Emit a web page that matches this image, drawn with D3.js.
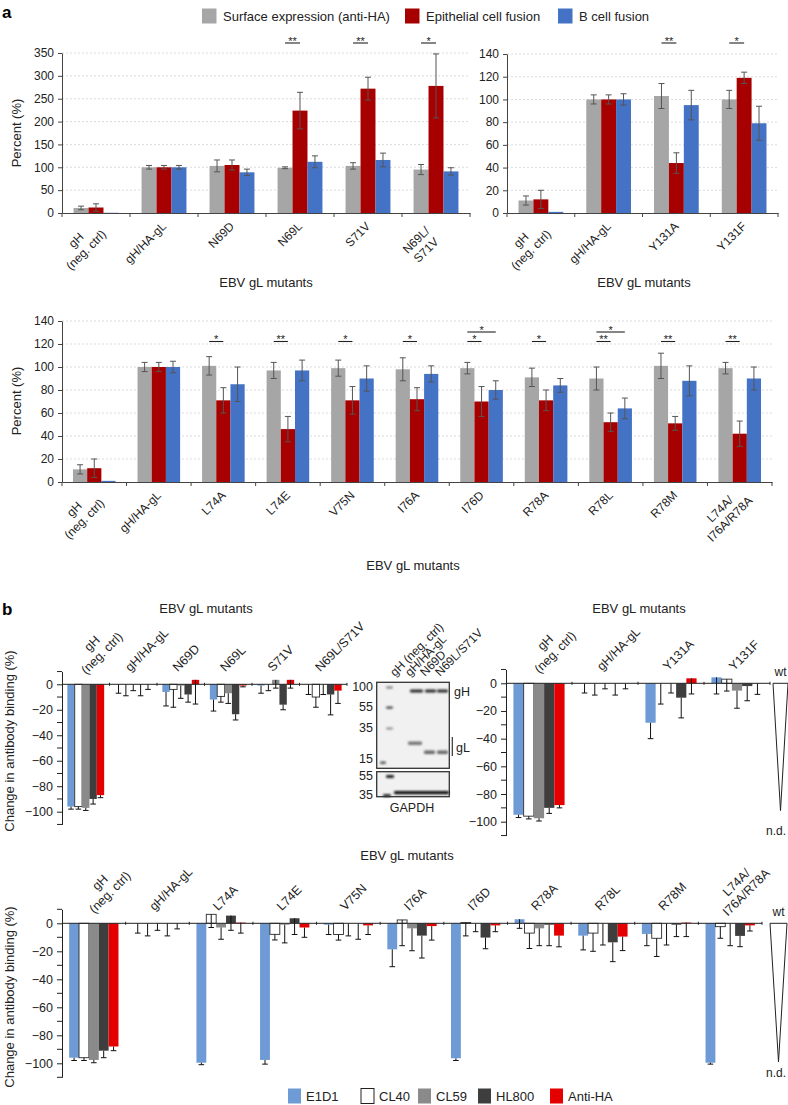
<!DOCTYPE html>
<html>
<head>
<meta charset="utf-8">
<script src="https://cdn.jsdelivr.net/npm/d3@7"></script>
<style>
  body { margin: 0; background: #fff; }
  svg { display: block; font-family: "Liberation Sans", Arial, Helvetica, sans-serif; }
</style>
</head>
<body>
<svg id="fig" width="788" height="1105"></svg>
<script>
// ---------- panel a data ----------
const seriesA = ["Surface expression (anti-HA)", "Epithelial cell fusion", "B cell fusion"];

const catsA1 = ["gH\n(neg. ctrl)", "gH/HA-gL", "N69D", "N69L", "S71V", "N69L/\nS71V"];
const surfA1 = [11, 100, 103, 99, 103, 95];
const surfErrA1 = [4, 4, 13, 2, 7, 11];
const epiA1 = [12, 100, 105, 224, 272, 278];
const epiErrA1 = [8, 4, 11, 40, 25, 70];
const bcellA1 = [0.5, 100, 89, 112, 116, 91];
const bcellErrA1 = [0, 4, 7, 13, 15, 8];
const sigEpiA1 = ["", "", "", "**", "**", "*"];

const catsA2 = ["gH\n(neg. ctrl)", "gH/HA-gL", "Y131A", "Y131F"];
const surfA2 = [11, 100, 103, 100];
const surfErrA2 = [4, 4, 11, 8];
const epiA2 = [12, 100, 44, 119];
const epiErrA2 = [8, 4, 9, 5];
const bcellA2 = [1, 100, 95, 79];
const bcellErrA2 = [0, 5, 13, 15];
const sigEpiA2 = ["", "", "**", "*"];

const catsA3 = ["gH\n(neg. ctrl)", "gH/HA-gL", "L74A", "L74E", "V75N", "I76A", "I76D", "R78A", "R78L", "R78M", "L74A/\nI76A/R78A"];
const surfA3 = [11, 100, 101, 97, 99, 98, 99, 91, 90, 101, 99];
const surfErrA3 = [4, 4, 8, 7, 7, 10, 5, 8, 10, 11, 5];
const epiA3 = [12, 100, 71, 46, 71, 72, 70, 71, 52, 51, 42];
const epiErrA3 = [8, 4, 11, 11, 12, 10, 13, 9, 8, 6, 11];
const bcellA3 = [1, 100, 85, 97, 90, 94, 80, 84, 64, 88, 90];
const bcellErrA3 = [0, 5, 15, 9, 11, 7, 8, 6, 9, 13, 10];
const sigEpiA3 = ["", "", "*", "**", "*", "*", "*", "*", "**", "**", "**"];
const sigBcellA3 = ["", "", "", "", "", "", "*", "", "*", "", ""];

// ---------- panel b data ----------
const seriesB = ["E1D1", "CL40", "CL59", "HL800", "Anti-HA"];

const catsB1 = ["gH\n(neg. ctrl)", "gH/HA-gL", "N69D", "N69L", "S71V", "N69L/S71V"];
const e1d1B1 = [-96, 0, -6, -12, -1, 0];
const e1d1ErrB1 = [2, 7, 11, 9, 6, 8];
const cl40B1 = [-96, 0, -4, -9.5, 0, -10];
const cl40ErrB1 = [2, 9, 14, 4.5, 5, 8];
const cl59B1 = [-97, 0, -1, -7, 3.5, 0];
const cl59ErrB1 = [2, 5, 10, 8, 6.5, 8];
const hl800B1 = [-90, 0, -8, -23.5, -16, -8];
const hl800ErrB1 = [4, 9, 6, 4.5, 4, 16];
const antiHaB1 = [-87, 0, 3.5, -1, 3.5, -5];
const antiHaErrB1 = [2, 4, 19, 1, 6.5, 10];

const catsB2 = ["gH\n(neg. ctrl)", "gH/HA-gL", "Y131A", "Y131F"];
const e1d1B2 = [-95, 0, -28.5, 4.3];
const e1d1ErrB2 = [2, 7, 11.5, 12];
const cl40B2 = [-96, 0, 0, 3];
const cl40ErrB2 = [2, 8.5, 15, 8.6];
const cl59B2 = [-97.5, 0, 0, -5.3];
const cl59ErrB2 = [2, 4, 7, 12.7];
const hl800B2 = [-90, 0, -10.4, -2];
const hl800ErrB2 = [4, 8.5, 14.6, 10.6];
const antiHaB2 = [-88, 0, 3.6, 0];
const antiHaErrB2 = [2, 4, 11.3, 8];

const catsB3 = ["gH\n(neg. ctrl)", "gH/HA-gL", "L74A", "L74E", "V75N", "I76A", "I76D", "R78A", "R78L", "R78M", "L74A/\nI76A/R78A"];
const e1d1B3 = [-96, 0, -99.6, -97.6, -1, -18.6, -96.4, 2.9, -8.8, -7.6, -99.6];
const e1d1ErrB3 = [2, 7, 1.4, 3, 7, 12.4, 1.6, 6.5, 10.2, 8.4, 1];
const cl40B3 = [-96, 0, 6.4, -7.9, -8, 2.4, 0.5, -7, -7, -10.7, -2.4];
const cl40ErrB3 = [2, 9, 9.4, 4, 4, 18.4, 9.5, 11, 13, 13, 8.3];
const cl59B3 = [-97.6, 0, -3, -1, 0, -3.6, 0, -3.6, 0, 0, 0];
const cl59ErrB3 = [2, 5, 8.4, 13, 9, 16, 6, 12.4, 15.5, 15.5, 16];
const hl800B3 = [-91, 0, 5.5, 3.6, 0, -8.8, -10.2, -1, -13.6, -1, -9];
const hl800ErrB3 = [5, 9, 10.5, 11.6, 11.4, 16, 8, 15, 13.8, 8.5, 7.7];
const antiHaB3 = [-88, 0, 0.5, -3, -1.5, -2, -1.5, -8.8, -9.5, 0.5, -1.5];
const antiHaErrB3 = [3, 4, 7.5, 7, 6.5, 10, 4.5, 8, 10, 10, 4];

// ---------- styles ----------
const colorsA = ["#a6a6a6", "#a60000", "#4472c4"];
const colorsB = ["#6e9bd6", "#ffffff", "#8a8a8a", "#3e3e3e", "#e40000"];
const ink = "#222";

const svg = d3.select("#fig");

// rotated category label; single line anchored, multi-line centred block
function catLabel(g, label, px, py, anchor, cx, cy) {
  const lines = label.split("\n");
  const n = lines.length, lh = 14;
  if (n === 1) {
    g.append("text").attr("transform", `translate(${px},${py}) rotate(-45)`)
      .attr("text-anchor", anchor).text(lines[0]);
    return;
  }
  lines.forEach((ln, i) => {
    const off = (i - (n - 1) / 2) * lh * Math.SQRT1_2;
    g.append("text").attr("transform", `translate(${cx + off},${cy + off}) rotate(-45)`)
      .attr("text-anchor", "middle").attr("dy", "0.35em").text(ln);
  });
}

// ---------- panel a ----------
function drawA(cfg) {
  const x = d3.scaleBand().domain(cfg.cats).range([cfg.x0, cfg.x1]);
  const y = d3.scaleLinear().domain([0, cfg.max]).range([cfg.yZero, cfg.yTop]);
  const bw = x.bandwidth() * 0.22;
  const cx = (c, s) => x(c) + x.bandwidth() / 2 + (s - 1) * bw;
  const g = svg.append("g");

  g.append("g").selectAll("line").data(d3.range(cfg.step, cfg.max + 1, cfg.step)).join("line")
    .attr("x1", cfg.x0).attr("x2", cfg.x1)
    .attr("y1", d => y(d)).attr("y2", d => y(d))
    .attr("stroke", "#d2d2d2").attr("stroke-width", 0.8).attr("stroke-dasharray", "2,2");

  cfg.vals.forEach((arr, s) => {
    g.append("g").selectAll("rect").data(cfg.cats).join("rect")
      .attr("x", d => cx(d, s) - bw / 2).attr("width", bw)
      .attr("y", (d, i) => y(arr[i]))
      .attr("height", (d, i) => y(0) - y(arr[i]))
      .attr("fill", colorsA[s]);
  });

  cfg.errs.forEach((arr, s) => {
    const eg = g.append("g").attr("stroke", "#555").attr("stroke-width", 1);
    cfg.cats.forEach((c, i) => {
      if (!arr[i]) return;
      const v = cfg.vals[s][i], xc = cx(c, s);
      eg.append("line").attr("x1", xc).attr("x2", xc)
        .attr("y1", y(v + arr[i])).attr("y2", y(v - arr[i]));
      [v + arr[i], v - arr[i]].forEach(e => {
        eg.append("line").attr("x1", xc - 3).attr("x2", xc + 3).attr("y1", y(e)).attr("y2", y(e));
      });
    });
  });

  // significance brackets
  const sg = g.append("g").attr("font-size", 11).attr("text-anchor", "middle").attr("fill", ink);
  const bracket = (c, s1, s2, ly, txt) => {
    sg.append("line").attr("x1", cx(c, s1)).attr("x2", cx(c, s2))
      .attr("y1", ly).attr("y2", ly).attr("stroke", ink).attr("stroke-width", 1.1);
    sg.append("text").attr("x", (cx(c, s1) + cx(c, s2)) / 2).attr("y", ly + 1.5).text(txt);
  };
  cfg.cats.forEach((c, i) => {
    if (cfg.sigE[i]) bracket(c, 0, 1, cfg.sigY, cfg.sigE[i]);
    if (cfg.sigB && cfg.sigB[i]) bracket(c, 0, 2, cfg.sigY2, cfg.sigB[i]);
  });

  const yAxis = g.append("g").attr("transform", `translate(${cfg.x0},0)`)
    .call(d3.axisLeft(y).tickValues(d3.range(0, cfg.max + 1, cfg.step))
      .tickSize(4).tickSizeOuter(0).tickPadding(4));
  yAxis.selectAll("text").attr("font-size", 12).attr("fill", ink);
  yAxis.selectAll("line,path").attr("stroke", "#444");

  const xAxis = g.append("g").attr("transform", `translate(0,${cfg.yZero})`)
    .call(d3.axisBottom(x).tickSize(0).tickSizeOuter(0).tickFormat(""));
  xAxis.select("path").attr("stroke", "#444").attr("stroke-width", 1.2);
  g.append("g").selectAll("line").data(cfg.cats.map(c => x(c)).concat([cfg.x1])).join("line")
    .attr("x1", d => d).attr("x2", d => d)
    .attr("y1", cfg.yZero).attr("y2", cfg.yZero + 4).attr("stroke", "#444");

  const lg = g.append("g").attr("font-size", 12).attr("fill", ink);
  cfg.cats.forEach(c => {
    const m = x(c) + x.bandwidth() / 2;
    catLabel(lg, c, m + 3, cfg.yZero + 14, "end", m - 15, cfg.yZero + 32);
  });

  g.append("text").attr("x", cfg.titleX).attr("y", cfg.titleY)
    .attr("text-anchor", "middle").attr("font-size", 13).attr("fill", ink).text("EBV gL mutants");
  if (cfg.ylabel) {
    g.append("text").attr("transform", `translate(21,${cfg.ylabelY}) rotate(-90)`)
      .attr("text-anchor", "middle").attr("font-size", 13).attr("fill", ink).text("Percent (%)");
  }
}

// ---------- panel b ----------
function drawB(cfg) {
  const x = d3.scaleBand().domain(cfg.cats).range([cfg.x0, cfg.x1]);
  const y = d3.scaleLinear().domain([-110, 10])
    .range([cfg.yZero + 110 * cfg.k, cfg.yZero - 10 * cfg.k]);
  const bw = x.bandwidth() * 0.155;
  const cx = (c, s) => x(c) + x.bandwidth() / 2 + (s - 2) * bw;
  const g = svg.append("g");

  cfg.vals.forEach((arr, s) => {
    g.append("g").selectAll("rect").data(cfg.cats).join("rect")
      .attr("x", d => cx(d, s) - bw / 2).attr("width", bw)
      .attr("y", (d, i) => y(Math.max(arr[i], 0)))
      .attr("height", (d, i) => Math.abs(y(arr[i]) - y(0)))
      .attr("fill", colorsB[s])
      .attr("stroke", s === 1 ? "#2a2a2a" : "none").attr("stroke-width", 0.9);
  });

  cfg.errs.forEach((arr, s) => {
    const eg = g.append("g").attr("stroke", "#111").attr("stroke-width", 1);
    cfg.cats.forEach((c, i) => {
      const v = cfg.vals[s][i], xc = cx(c, s), lo = y(v - arr[i]);
      eg.append("line").attr("x1", xc).attr("x2", xc).attr("y1", y(v)).attr("y2", lo);
      eg.append("line").attr("x1", xc - 2.8).attr("x2", xc + 2.8).attr("y1", lo).attr("y2", lo);
    });
  });

  const yAxis = g.append("g").attr("transform", `translate(${cfg.x0},0)`)
    .call(d3.axisLeft(y).tickValues(d3.range(-100, 1, 20)).tickSize(5).tickSizeOuter(0).tickPadding(4));
  yAxis.selectAll("text").attr("font-size", 12.5).attr("fill", ink);
  yAxis.selectAll("line,path").attr("stroke", "#222");
  g.append("g").selectAll("line").data(d3.range(-110, 11, 20)).join("line")
    .attr("x1", cfg.x0 - 5).attr("x2", cfg.x0).attr("y1", d => y(d)).attr("y2", d => y(d))
    .attr("stroke", "#222");

  g.append("line").attr("x1", cfg.x0).attr("x2", cfg.x1).attr("y1", y(0)).attr("y2", y(0))
    .attr("stroke", "#222").attr("stroke-width", 1);
  g.append("g").selectAll("line").data(cfg.cats.slice(1).map(c => x(c)).concat([cfg.x1])).join("line")
    .attr("x1", d => d).attr("x2", d => d)
    .attr("y1", y(0) - 1.5).attr("y2", y(0) + 1.5).attr("stroke", "#222");

  const lg = g.append("g").attr("font-size", 12.5).attr("fill", ink);
  cfg.cats.forEach(c => {
    const m = x(c) + x.bandwidth() / 2;
    catLabel(lg, c, m - 3, y(0) - 12, "start", m + 11, y(0) - 36);
  });

  // wild type reference (not determined)
  if (cfg.wt) {
    const [wa, wb] = cfg.wt;
    const wm = cfg.x1 + (wa + wb) / 2;
    g.append("path")
      .attr("d", `M${cfg.x1 + wa},${y(0)}L${cfg.x1 + wb},${y(0)}L${wm},${y(cfg.wtTip)}Z`)
      .attr("fill", "#fff").attr("stroke", "#222").attr("stroke-width", 1);
    g.append("text").attr("x", wm).attr("y", y(0) - 7)
      .attr("text-anchor", "middle").attr("font-size", 12).attr("fill", ink).text("wt");
    g.append("text").attr("x", 786).attr("y", y(-107) + 4)
      .attr("text-anchor", "end").attr("font-size", 12).attr("fill", ink).text("n.d.");
  }

  g.append("text").attr("x", cfg.titleX).attr("y", cfg.titleY)
    .attr("text-anchor", "middle").attr("font-size", 13).attr("fill", ink).text("EBV gL mutants");
  if (cfg.ylabelY) {
    g.append("text").attr("transform", `translate(14,${cfg.ylabelY}) rotate(-90)`)
      .attr("text-anchor", "middle").attr("font-size", 13).attr("fill", ink)
      .text("Change in antibody binding (%)");
  }
}

// ---------- panel letters & legends ----------
svg.append("text").attr("x", 2).attr("y", 18).attr("font-size", 17).attr("font-weight", "bold").text("a");
svg.append("text").attr("x", 2).attr("y", 615).attr("font-size", 17).attr("font-weight", "bold").text("b");

const legAx = [202, 405, 558];
const legA = svg.append("g").attr("font-size", 13).attr("fill", ink);
seriesA.forEach((s, i) => {
  legA.append("rect").attr("x", legAx[i]).attr("y", 8.5).attr("width", 14.5).attr("height", 15).attr("fill", colorsA[i]);
  legA.append("text").attr("x", legAx[i] + 21).attr("y", 21).text(s);
});

const legBx = [288, 361, 418, 478, 550];
const legB = svg.append("g").attr("font-size", 13).attr("fill", ink);
seriesB.forEach((s, i) => {
  legB.append("rect").attr("x", legBx[i]).attr("y", 1088.5).attr("width", 13).attr("height", 15)
    .attr("fill", colorsB[i]).attr("stroke", i === 1 ? "#222" : "none");
  legB.append("text").attr("x", legBx[i] + 18).attr("y", 1101).text(s);
});

// ---------- charts ----------
drawA({ cats: catsA1, vals: [surfA1, epiA1, bcellA1], errs: [surfErrA1, epiErrA1, bcellErrA1],
  sigE: sigEpiA1, x0: 62, x1: 470, yZero: 213, yTop: 53, max: 350, step: 50,
  sigY: 43, titleX: 266, titleY: 287, ylabel: true, ylabelY: 133 });
drawA({ cats: catsA2, vals: [surfA2, epiA2, bcellA2], errs: [surfErrA2, epiErrA2, bcellErrA2],
  sigE: sigEpiA2, x0: 507, x1: 778, yZero: 213, yTop: 54, max: 140, step: 20,
  sigY: 43, titleX: 644, titleY: 287, ylabel: false });
drawA({ cats: catsA3, vals: [surfA3, epiA3, bcellA3], errs: [surfErrA3, epiErrA3, bcellErrA3],
  sigE: sigEpiA3, sigB: sigBcellA3, x0: 62, x1: 772, yZero: 482, yTop: 321, max: 140, step: 20,
  sigY: 341.5, sigY2: 332, titleX: 413, titleY: 570, ylabel: true, ylabelY: 401 });

drawB({ cats: catsB1, vals: [e1d1B1, cl40B1, cl59B1, hl800B1, antiHaB1],
  errs: [e1d1ErrB1, cl40ErrB1, cl59ErrB1, hl800ErrB1, antiHaErrB1],
  x0: 62, x1: 347, yZero: 684.3, k: 1.274, titleX: 206, titleY: 613, ylabelY: 741 });
drawB({ cats: catsB2, vals: [e1d1B2, cl40B2, cl59B2, hl800B2, antiHaB2],
  errs: [e1d1ErrB2, cl40ErrB2, cl59ErrB2, hl800ErrB2, antiHaErrB2],
  x0: 506, x1: 770, yZero: 683.3, k: 1.384, titleX: 639, titleY: 613,
  wt: [3, 18], wtTip: -92 });
drawB({ cats: catsB3, vals: [e1d1B3, cl40B3, cl59B3, hl800B3, antiHaB3],
  errs: [e1d1ErrB3, cl40ErrB3, cl59ErrB3, hl800ErrB3, antiHaErrB3],
  x0: 62, x1: 762, yZero: 923.3, k: 1.4, titleX: 407, titleY: 860, ylabelY: 997,
  wt: [8, 25], wtTip: -99 });

// ---------- western blot inset ----------
const blot = svg.append("g");
const defs = svg.append("defs");
defs.append("filter").attr("id", "smear").append("feGaussianBlur").attr("stdDeviation", 0.8);
blot.append("rect").attr("x", 376.7).attr("y", 682.3).attr("width", 72.6).attr("height", 86)
  .attr("fill", "#f1f1f1").attr("stroke", "#333").attr("stroke-width", 1.3);
blot.append("rect").attr("x", 376.7).attr("y", 771.7).attr("width", 72.6).attr("height", 25)
  .attr("fill", "#f1f1f1").attr("stroke", "#333").attr("stroke-width", 1.3);
const bands = blot.append("g").attr("filter", "url(#smear)");
[[386, 686.5, 7, 2, "#777"], [386, 706.5, 7, 2.2, "#444"], [386, 727.5, 7, 2, "#888"],
 [380, 761.5, 6, 2.5, "#555"], [386, 775, 8, 3, "#222"], [383, 794, 8, 3, "#333"],
 [410, 689.5, 13, 3, "#2a2a2a"], [425, 689.5, 11, 3, "#2a2a2a"], [437, 689.5, 11, 3, "#2a2a2a"],
 [408, 741.5, 14, 3.5, "#777"], [424, 750.5, 11, 3.5, "#666"], [437, 750.5, 11, 3.5, "#666"],
 [394, 791, 55, 3.2, "#111"]].forEach(b => {
  bands.append("rect").attr("x", b[0]).attr("y", b[1]).attr("width", b[2]).attr("height", b[3])
    .attr("rx", 1.2).attr("fill", b[4]);
});
const bl = blot.append("g").attr("font-size", 12.5).attr("fill", ink);
[["100", 691], ["55", 711], ["35", 732], ["15", 763], ["55", 780], ["35", 799]].forEach(t => {
  bl.append("text").attr("x", 373).attr("y", t[1]).attr("text-anchor", "end").text(t[0]);
});
bl.append("text").attr("x", 412).attr("y", 812).attr("text-anchor", "middle").text("GAPDH");
bl.append("text").attr("x", 454).attr("y", 696).text("gH");
bl.append("text").attr("x", 456).attr("y", 752).text("gL");
blot.append("line").attr("x1", 452.3).attr("x2", 452.3).attr("y1", 737).attr("y2", 756)
  .attr("stroke", "#333").attr("stroke-width", 1.2);
const laneLab = blot.append("g").attr("font-size", 12).attr("fill", ink);
[["gH (neg. ctrl)", 395], ["gH/HA-gL", 410], ["N69D", 425], ["N69L/S71V", 440]].forEach(t => {
  laneLab.append("text").attr("transform", `translate(${t[1]},677) rotate(-45)`).text(t[0]);
});
</script>
</body>
</html>
